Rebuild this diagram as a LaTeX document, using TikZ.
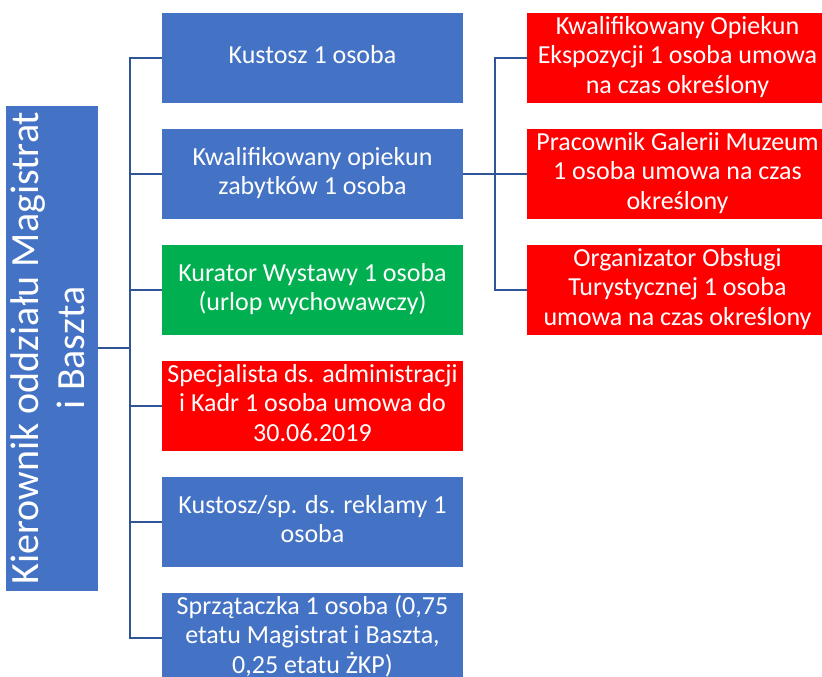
\documentclass[tikz,border=0pt]{standalone}
\usepackage{fontspec}
\setmainfont{Carlito}
\usepackage{graphicx}
\usetikzlibrary{matrix,positioning}
\definecolor{boxblue}{RGB}{68,114,196}
\definecolor{boxred}{RGB}{255,0,0}
\definecolor{boxgreen}{RGB}{0,176,80}
\definecolor{linkblue}{RGB}{47,85,151}
\newcommand{\boxlines}[1]{\begin{tabular}{@{}c@{}}#1\end{tabular}}

\begin{document}
\begin{tikzpicture}[
  staff/.style={fill=boxblue, text=white, minimum width=301pt, minimum height=90pt,
    inner sep=0pt, outer sep=0pt, font=\fontsize{26}{29.5}\selectfont},
  staffred/.style={staff, fill=boxred},
  staffgreen/.style={staff, fill=boxgreen},
  boss/.style={fill=boxblue, text=white, minimum width=90pt, minimum height=485pt,
    inner sep=0pt, outer sep=0pt, font=\fontsize{40}{46}\selectfont},
  link/.style={draw=linkblue, line width=2pt}]
  \useasboundingbox (0,0) rectangle (822pt,-677pt);
  \matrix (m) [matrix of nodes, nodes={staff, anchor=center}, row sep=26pt, column sep=64pt,
    inner sep=0pt, outer sep=0pt] at (495pt,-348pt)
  {
\boxlines{Kustosz 1 osoba} & |[staffred]| \boxlines{Kwalifikowany Opiekun\\ Ekspozycji 1 osoba umowa\\ na czas określony} \\
\boxlines{Kwalifikowany opiekun\\ zabytków 1 osoba} & |[staffred]| \boxlines{Pracownik Galerii Muzeum\\ 1 osoba umowa na czas\\ określony} \\
|[staffgreen]| \boxlines{Kurator Wystawy 1 osoba\\ (urlop wychowawczy)} & |[staffred]| \boxlines{Organizator Obsługi\\ Turystycznej 1 osoba\\ umowa na czas określony} \\
|[staffred]| \boxlines{Specjalista ds. administracji\\ i Kadr 1 osoba umowa do\\ 30.06.2019} \\
\boxlines{Kustosz/sp. ds. reklamy 1\\ osoba} \\
\boxlines{Sprzątaczka 1 osoba (0,75\\ etatu Magistrat i Baszta,\\ 0,25 etatu ŻKP)} \\
  };
  \node[boss, left=64pt of m] (boss) {\rotatebox{90}{\boxlines{Kierownik oddziału Magistrat\\ i Baszta}}};
  \foreach \i in {1,...,6}
    \draw[link] (boss.east) -- ++(32pt,0) |- (m-\i-1.west);
  \foreach \i in {1,2,3}
    \draw[link] (m-2-1.east) -- ++(32pt,0) |- (m-\i-2.west);
\end{tikzpicture}
\end{document}
